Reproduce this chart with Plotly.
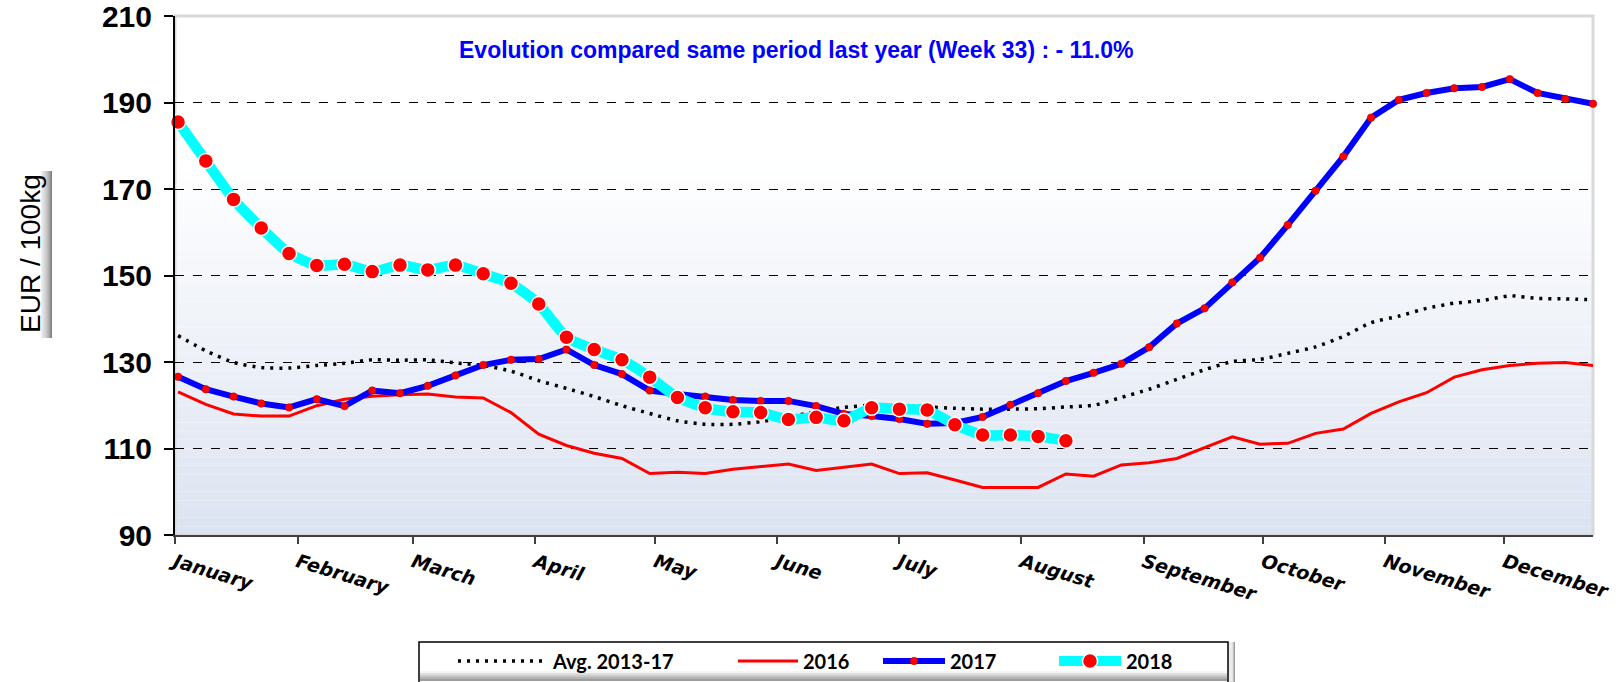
import plotly.graph_objects as go

# ---------------- data ----------------
weeks = list(range(1, 53))
weeks_2018 = list(range(1, 34))

avg_2013_17 = [136.1, 132.6, 129.9, 128.7, 128.6, 129.2, 129.7, 130.5, 130.4, 130.5,
               129.8, 129.2, 127.9, 125.7, 123.9, 122.0, 119.9, 118.1, 116.4, 115.6,
               115.6, 116.2, 117.3, 118.5, 119.5, 120.0, 119.8, 119.6, 119.3, 119.1,
               119.1, 119.2, 119.6, 120.0, 121.8, 123.7, 126.0, 128.2, 130.1, 130.6,
               132.0, 133.5, 135.9, 139.1, 140.6, 142.4, 143.6, 144.2, 145.3, 144.7,
               144.6, 144.4]

y2016 = [123.1, 120.2, 118.0, 117.5, 117.5, 119.9, 121.4, 122.1, 122.4, 122.6,
         121.9, 121.7, 118.3, 113.3, 110.7, 108.9, 107.7, 104.2, 104.5, 104.2,
         105.2, 105.8, 106.4, 104.9, 105.6, 106.4, 104.2, 104.4, 102.7, 101.0,
         101.0, 101.0, 104.1, 103.6, 106.2, 106.7, 107.7, 110.2, 112.7, 111.0,
         111.2, 113.5, 114.5, 118.1, 120.8, 122.9, 126.5, 128.2, 129.2, 129.7,
         129.9, 129.2]

y2017 = [126.6, 123.7, 122.0, 120.4, 119.5, 121.4, 119.8, 123.4, 122.8, 124.5,
         126.9, 129.3, 130.5, 130.7, 132.9, 129.3, 127.2, 123.4, 122.6, 122.0,
         121.2, 121.0, 121.0, 119.8, 118.0, 117.5, 116.8, 115.7, 115.9, 117.3,
         120.1, 122.8, 125.6, 127.5, 129.6, 133.4, 138.9, 142.4, 148.4, 154.1,
         161.7, 169.6, 177.5, 186.5, 190.6, 192.2, 193.3, 193.6, 195.4, 192.2,
         190.8, 189.7]

y2018 = [185.5, 176.5, 167.6, 161.0, 155.1, 152.3, 152.6, 150.9, 152.4, 151.3,
         152.4, 150.4, 148.2, 143.4, 135.7, 132.9, 130.5, 126.5, 121.8, 119.4,
         118.5, 118.3, 116.7, 117.2, 116.4, 119.4, 119.1, 118.9, 115.5, 113.1,
         113.1, 112.8, 111.8]

month_labels = ["January", "February", "March", "April", "May", "June", "July",
                "August", "September", "October", "November", "December"]
month_ticks = [0.89, 5.31, 9.47, 13.88, 18.2, 22.6, 27.0, 31.4, 35.8, 40.1, 44.5, 48.8]

y_ticks = [90, 110, 130, 150, 170, 190, 210]

title_text = "Evolution compared same period last year (Week 33) : - 11.0%"
y_title = "EUR / 100kg"

# ---------------- figure ----------------
W, H = 1623, 682
ML, MR, MT, MB = 175, 30, 16, 147
PW, PH = W - ML - MR, H - MT - MB


def px_to_paper_x(px):
    return (px - ML) / PW


def px_to_paper_y(py):
    return (H - MB - py) / PH


fig = go.Figure()

fig.add_trace(go.Scatter(
    x=weeks, y=avg_2013_17, name="Avg. 2013-17", mode="lines", legend="legend",
    line=dict(color="black", width=3.5, dash="3px,6px", shape="spline", smoothing=0.6),
))
fig.add_trace(go.Scatter(
    x=weeks, y=y2016, name="2016", mode="lines", legend="legend2",
    line=dict(color="#FF0000", width=3),
))
fig.add_trace(go.Scatter(
    x=weeks, y=y2017, name="2017", mode="lines+markers", legend="legend3",
    line=dict(color="#0000FF", width=6),
    marker=dict(color="#FF0000", size=7.5, line=dict(color="#C00000", width=0.6)),
    cliponaxis=False,
))
fig.add_trace(go.Scatter(
    x=weeks_2018, y=y2018, name="2018", mode="lines+markers", legend="legend4",
    line=dict(color="#00FFFF", width=10.5, shape="spline", smoothing=0.5),
    marker=dict(color="#FF0000", size=15, line=dict(color="white", width=1.5)),
    cliponaxis=False,
))

# background gradient (white at top -> light blue-grey at bottom)
shapes = []
N = 60
top_c = (255, 255, 255)
bot_c = (220, 227, 241)
for i in range(N):
    y0 = i / N
    y1 = (i + 1) / N
    t = (y0 + y1) / 2
    frac = max(0.0, (0.72 - t) / 0.72)
    c = tuple(int(round(top_c[k] * (1 - frac) + bot_c[k] * frac)) for k in range(3))
    shapes.append(dict(type="rect", xref="paper", yref="paper", x0=0, x1=1, y0=y0, y1=y1,
                       fillcolor="rgb(%d,%d,%d)" % c, line=dict(width=0), layer="below"))

# gray plot border (top / right)
shapes.append(dict(type="rect", xref="paper", yref="paper", x0=0, x1=1, y0=0, y1=1,
                   line=dict(color="#D9D9D9", width=3), fillcolor="rgba(0,0,0,0)",
                   layer="between"))

# y-title box with right shadow
bx0, bx1 = px_to_paper_x(7), px_to_paper_x(52)
by0, by1 = px_to_paper_y(338), px_to_paper_y(171)
shapes.append(dict(type="rect", xref="paper", yref="paper", x0=bx0, x1=bx1, y0=by0, y1=by1,
                   fillcolor="white", line=dict(width=0), layer="below"))
S = 10
sw = (bx1 - bx0) * 0.24
for i in range(S):
    f = (i + 1) / S
    g = int(round(248 - 120 * f))
    shapes.append(dict(type="rect", xref="paper", yref="paper",
                       x0=bx1 - sw + sw * i / S, x1=bx1 - sw + sw * (i + 1) / S,
                       y0=by0, y1=by1, fillcolor="rgb(%d,%d,%d)" % (g, g, g),
                       line=dict(width=0), layer="below"))

# legend box (shared frame for the four legend entries) with soft shadow
lx0, lx1 = px_to_paper_x(419), px_to_paper_x(1232)
ly_top, ly_bot = px_to_paper_y(642), px_to_paper_y(686)
for i in range(6):
    g = int(round(150 + 17 * i))
    d = (6 - i) / PW
    shapes.append(dict(type="rect", xref="paper", yref="paper",
                       x0=lx1 - 8 / PW, x1=lx1 + d * 0.5, y0=ly_bot, y1=ly_top,
                       fillcolor="rgb(%d,%d,%d)" % (g, g, g), line=dict(width=0)))
shapes.append(dict(type="rect", xref="paper", yref="paper",
                   x0=lx0, x1=lx1 - 4 / PW, y0=ly_bot, y1=ly_top,
                   fillcolor="white", line=dict(color="black", width=1.5)))
for i in range(5):
    g = int(round(245 - 22 * i))
    yy = px_to_paper_y(672 + i * 2)
    shapes.append(dict(type="line", xref="paper", yref="paper",
                       x0=lx0 + 1 / PW, x1=lx1 - 5 / PW, y0=yy, y1=yy,
                       line=dict(color="rgb(%d,%d,%d)" % (g, g, g), width=2)))

legend_font = dict(family="Lato", size=20, color="black", weight="bold")
leg_common = dict(orientation="h", xref="container", yref="container",
                  xanchor="left", yanchor="middle", y=1 - 661 / H,
                  bgcolor="rgba(0,0,0,0)", borderwidth=0, font=legend_font)

fig.update_layout(
    width=W, height=H,
    margin=dict(l=ML, r=MR, t=MT, b=MB, autoexpand=False),
    paper_bgcolor="white",
    plot_bgcolor="white",
    shapes=shapes,
    showlegend=True,
    legend=dict(leg_common, x=(460 - 7) / W, itemwidth=90),
    legend2=dict(leg_common, x=(740 - 7) / W, itemwidth=60),
    legend3=dict(leg_common, x=(885 - 7) / W, itemwidth=62),
    legend4=dict(leg_common, x=(1061 - 7) / W, itemwidth=62),
    annotations=[
        dict(text=title_text, xref="paper", yref="paper",
             x=px_to_paper_x(796), y=px_to_paper_y(50),
             xanchor="center", yanchor="middle", showarrow=False,
             font=dict(family="Liberation Sans", size=23, color="#0000FF", weight="bold")),
        dict(text=y_title, xref="paper", yref="paper",
             x=px_to_paper_x(31), y=px_to_paper_y(254),
             xanchor="center", yanchor="middle", showarrow=False, textangle=-90,
             font=dict(family="Liberation Sans", size=28, color="black")),
    ],
)

fig.update_xaxes(
    range=[0.89, 52.0], automargin=False,
    tickmode="array", tickvals=month_ticks, ticktext=month_labels,
    tickangle=17, ticklabeloverflow="allow",
    tickfont=dict(family="DejaVu Sans", size=19, color="black", weight="bold", style="italic"),
    showgrid=False, zeroline=False,
    showline=True, linecolor="#404040", linewidth=2,
    ticks="outside", ticklen=7, tickwidth=1.5, tickcolor="#404040",
)
fig.update_yaxes(
    range=[90, 210], automargin=False,
    tickmode="array", tickvals=y_ticks, ticklabeloverflow="allow",
    tickfont=dict(family="Liberation Sans", size=30, color="black", weight="bold"),
    ticklabelstandoff=6,
    showgrid=True, gridcolor="black", gridwidth=1, griddash="dash",
    zeroline=False,
    showline=True, linecolor="black", linewidth=2,
    ticks="outside", ticklen=9, tickwidth=1.5, tickcolor="black",
)

# remove the default 8px page margin so the figure fills the window exactly
fig.write_html("out.html", config={"displayModeBar": False},
               post_script="document.body.style.margin='0px';")
